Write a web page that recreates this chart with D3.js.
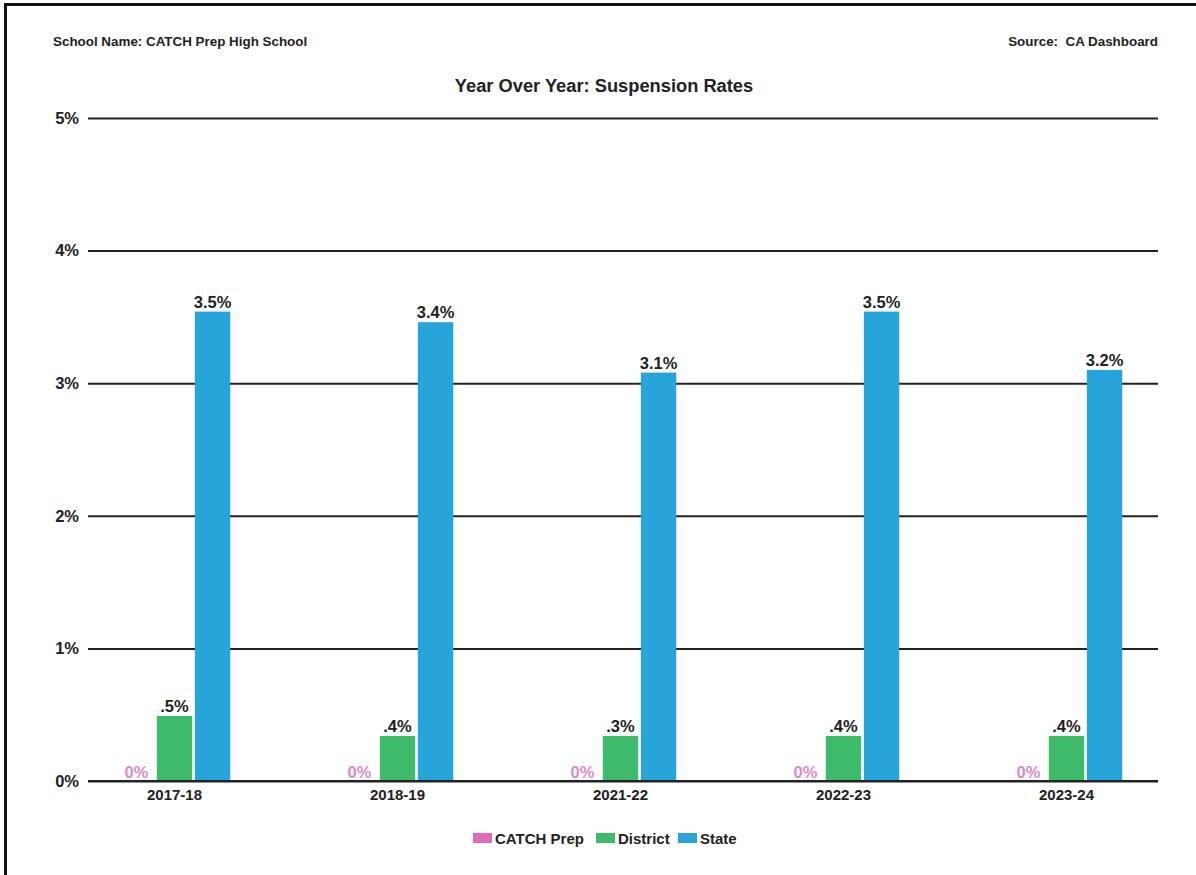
<!DOCTYPE html>
<html>
<head>
<meta charset="utf-8">
<script src="https://cdn.jsdelivr.net/npm/d3@7"></script>
<style>
  html, body { margin: 0; padding: 0; background: #fff; }
  svg { display: block; font-family: "Liberation Sans", Arial, sans-serif; }
</style>
</head>
<body>
<svg id="chart" width="1196" height="875"></svg>
<script>
const categories = ["2017-18", "2018-19", "2021-22", "2022-23", "2023-24"];
const seriesNames = ["CATCH Prep", "District", "State"];
const catchValues = [0, 0, 0, 0, 0];
const districtValues = [0.49, 0.34, 0.34, 0.34, 0.34];
const stateValues = [3.54, 3.46, 3.08, 3.54, 3.10];
const catchLabels = ["0%", "0%", "0%", "0%", "0%"];
const districtLabels = [".5%", ".4%", ".3%", ".4%", ".4%"];
const stateLabels = ["3.5%", "3.4%", "3.1%", "3.5%", "3.2%"];
const yTicks = [0, 1, 2, 3, 4, 5];
const yTickLabels = ["0%", "1%", "2%", "3%", "4%", "5%"];
const colors = ["#e06cb8", "#3dba6a", "#27a4da"];

const svg = d3.select("#chart");

// frame (top and left edges visible)
svg.append("line").attr("x1", 5).attr("x2", 1196).attr("y1", 4.5).attr("y2", 4.5)
  .attr("stroke", "#111").attr("stroke-width", 3);
svg.append("line").attr("x1", 5.5).attr("x2", 5.5).attr("y1", 3).attr("y2", 875)
  .attr("stroke", "#111").attr("stroke-width", 3);

// header texts
svg.append("text").attr("x", 53).attr("y", 46).attr("font-size", 13.4).attr("font-weight", "bold")
  .attr("fill", "#222").text("School Name: CATCH Prep High School");
svg.append("text").attr("x", 1158).attr("y", 46).attr("font-size", 13.4).attr("font-weight", "bold")
  .attr("fill", "#222").attr("text-anchor", "end").text("Source:\u00a0 CA Dashboard");
svg.append("text").attr("x", 604).attr("y", 92).attr("font-size", 18.3).attr("font-weight", "bold")
  .attr("fill", "#222").attr("text-anchor", "middle").text("Year Over Year: Suspension Rates");

const y = d3.scaleLinear().domain([0, 5]).range([781, 118]);
const x0 = d3.scaleBand().domain(categories).range([63, 1178]).paddingInner(0.5).paddingOuter(0.25);
const x1 = d3.scaleBand().domain(seriesNames).range([0, x0.bandwidth()]).paddingInner(0.07);

// gridlines + y labels via axis
const yAxis = d3.axisLeft(y).tickValues(yTicks).tickFormat((d, i) => yTickLabels[i])
  .tickSize(-(1158 - 88)).tickPadding(9);
const gy = svg.append("g").attr("transform", "translate(88,0)").call(yAxis);
gy.select(".domain").remove();
gy.selectAll(".tick line").attr("stroke", "#222").attr("stroke-width", 2);
gy.selectAll(".tick text").attr("font-size", 16.5).attr("font-weight", "bold").attr("fill", "#222")
  .attr("font-family", "Liberation Sans, Arial, sans-serif");

const data = categories.map((c, i) => ({
  cat: c,
  vals: [
    { s: seriesNames[0], v: catchValues[i], label: catchLabels[i] },
    { s: seriesNames[1], v: districtValues[i], label: districtLabels[i] },
    { s: seriesNames[2], v: stateValues[i], label: stateLabels[i] }
  ]
}));

const groups = svg.append("g").selectAll("g").data(data).join("g")
  .attr("transform", d => `translate(${x0(d.cat)},0)`);

groups.selectAll("rect").data(d => d.vals).join("rect")
  .attr("x", d => x1(d.s))
  .attr("width", x1.bandwidth())
  .attr("y", d => y(d.v))
  .attr("height", d => y(0) - y(d.v))
  .attr("fill", (d, i) => colors[i]);

groups.selectAll("text.val").data(d => d.vals).join("text")
  .attr("class", "val")
  .attr("x", d => x1(d.s) + x1.bandwidth() / 2)
  .attr("y", d => d.v === 0 ? y(0) - 3 : y(d.v) - 4)
  .attr("text-anchor", "middle")
  .attr("font-size", 16.5)
  .attr("font-weight", "bold")
  .attr("fill", (d, i) => i === 0 ? "#d98cc6" : "#222")
  .text(d => d.label);

// redraw baseline on top of bars
svg.append("line").attr("x1", 88).attr("x2", 1158).attr("y1", y(0)).attr("y2", y(0))
  .attr("stroke", "#222").attr("stroke-width", 2);

// x axis labels
const xAxis = d3.axisBottom(x0).tickSize(0).tickPadding(8);
const gx = svg.append("g").attr("transform", `translate(0,${y(0)})`).call(xAxis);
gx.select(".domain").remove();
gx.selectAll(".tick text").attr("font-size", 15).attr("font-weight", "bold").attr("fill", "#222")
  .attr("font-family", "Liberation Sans, Arial, sans-serif");

// legend
const legendX = [473, 596, 678];
const leg = svg.append("g").selectAll("g").data(seriesNames).join("g")
  .attr("transform", (d, i) => `translate(${legendX[i]},833)`);
leg.append("rect").attr("width", 19).attr("height", 10).attr("fill", (d, i) => colors[i]);
leg.append("text").attr("x", 22).attr("y", 10.5).attr("font-size", 15).attr("font-weight", "bold")
  .attr("fill", "#222").text(d => d);
</script>
</body>
</html>
